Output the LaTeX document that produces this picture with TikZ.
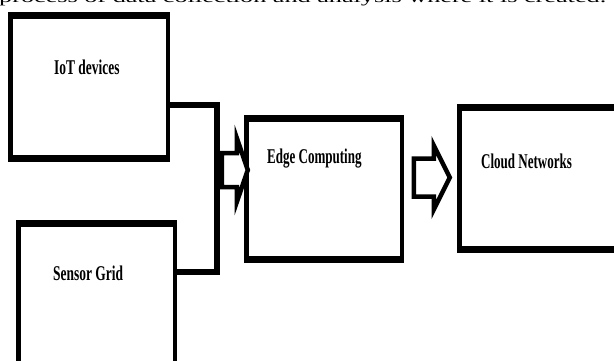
\documentclass[tikz,border=0pt]{standalone}
\usepackage{graphicx}
\usepackage{fontspec}
\setmainfont{Liberation Serif}
\begin{document}
\begin{tikzpicture}[x=1pt,y=1pt,
  frame/.style={rectangle, inner sep=0pt, draw=none, fill=black,
    minimum width=#1,
    path picture={\fill[white]
      ([shift={(4.5pt,-7pt)}]path picture bounding box.north west) rectangle
      ([shift={(-4.5pt,7pt)}]path picture bounding box.south east);}},
  boxlabel/.style={anchor=base west, inner sep=0pt,
    font=\fontsize{21}{21}\selectfont\bfseries},
  wire/.style={line width=6pt, line join=miter},
  blockarrow/.style={line width=4.5pt, line join=miter, fill=white},
]
\useasboundingbox (0,0) rectangle (614,360);
\clip (0,0) rectangle (614,360);

% caption line running off the top edge
\node[anchor=base west, inner sep=0pt] (caption) at (-1,358)
  {\resizebox{607pt}{\height}{\fontsize{16}{16}\selectfont process of data collection and analysis where it is created.}};

% blocks
\node[frame=162pt, minimum height=150pt] (iot)    at (89,273)    {};
\node[frame=161pt, minimum height=165pt] (sensor) at (96.5,57.5) {};
\node[frame=160pt, minimum height=148pt] (edge)   at (324,171)   {};
\node[frame=183pt, minimum height=149pt] (cloud)  at (548.5,181.5) {};

% block titles
\node[boxlabel] (iot-t)    at (54,286)  {\scalebox{0.64}[1]{IoT devices}};
\node[boxlabel] (sensor-t) at (53,80)   {\scalebox{0.64}[1]{Sensor Grid}};
\node[boxlabel] (edge-t)   at (267,197) {\scalebox{0.62}[1]{Edge Computing}};
\node[boxlabel] (cloud-t)  at (481,192) {\scalebox{0.62}[1]{Cloud Networks}};

% bus joining the two sources
\coordinate (ij) at ([yshift=-18pt]iot.east);
\coordinate (sj) at ([yshift=30.5pt]sensor.east);
\coordinate (bus) at (216.5,0);
\draw[wire] (ij) -| (bus |- sj) -- (sj);

% hollow block arrows
\coordinate (a1) at ([shift={(4pt,19pt)}]edge.west);
\draw[blockarrow] (a1) -- ++(-11,32) -- ++(0,-15) -- ++(-15,0) -- ++(0,-34)
  -- ++(15,0) -- ++(0,-15) -- cycle;
\coordinate (a2) at ([shift={(-7pt,1pt)}]cloud.west);
\draw[blockarrow] (a2) -- ++(-16,32) -- ++(0,-13) -- ++(-20,0) -- ++(0,-38)
  -- ++(20,0) -- ++(0,-13) -- cycle;
\end{tikzpicture}
\end{document}
